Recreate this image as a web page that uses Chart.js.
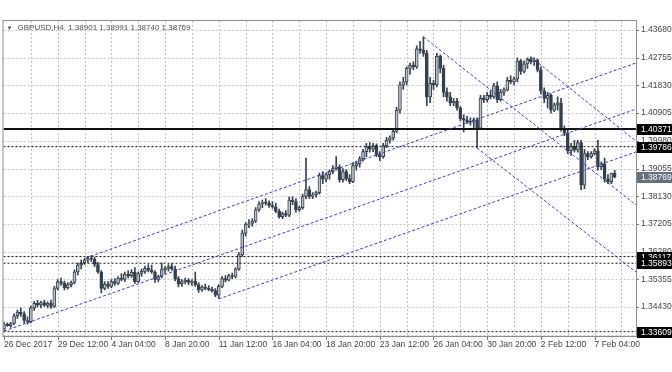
<!DOCTYPE html>
<html>
<head>
<meta charset="utf-8">
<script src="https://cdn.jsdelivr.net/npm/chart.js@4.4.1/dist/chart.umd.min.js"></script>
<style>
  html, body { margin: 0; padding: 0; background: #fff; }
  #wrap { width: 672px; height: 372px; }
</style>
</head>
<body>
<div id="wrap"><canvas id="chart" width="672" height="372"></canvas></div>
<script>
// GBPUSD H4 candles, one entry per bar (bar index = x)
const opens = [
  1.3370, 1.3386, 1.3381, 1.3388, 1.3414, 1.3426, 1.3420, 1.3398, 1.3394, 1.3440,
  1.3455, 1.3450, 1.3458, 1.3448, 1.3456, 1.3445, 1.3505, 1.3528, 1.3522, 1.3508,
  1.3518, 1.3525, 1.3560, 1.3583, 1.3590, 1.3600, 1.3605, 1.3603, 1.3585, 1.3560,
  1.3505, 1.3520, 1.3512, 1.3528, 1.3522, 1.3540, 1.3535, 1.3552, 1.3548, 1.3560,
  1.3528, 1.3555, 1.3562, 1.3572, 1.3566, 1.3560, 1.3535, 1.3545, 1.3568, 1.3572,
  1.3578, 1.3570, 1.3538, 1.3520, 1.3528, 1.3532, 1.3525, 1.3530, 1.3518, 1.3500,
  1.3510, 1.3505, 1.3502, 1.3498, 1.3483, 1.3512, 1.3538, 1.3533, 1.3548, 1.3545,
  1.3570, 1.3618, 1.3690, 1.3718, 1.3722, 1.3730, 1.3768, 1.3788, 1.3792, 1.3790,
  1.3782, 1.3778, 1.3763, 1.3745, 1.3755, 1.3750, 1.3800, 1.3795, 1.3768, 1.3775,
  1.3812, 1.3835, 1.3812, 1.3818, 1.3825, 1.3882, 1.3870, 1.3885, 1.3895, 1.3905,
  1.3910, 1.3868, 1.3895, 1.3872, 1.3862, 1.3915, 1.3922, 1.3938, 1.3962, 1.3978,
  1.3970, 1.3982, 1.3952, 1.3945, 1.3982, 1.4000, 1.4008, 1.4030, 1.4100, 1.4185,
  1.4195, 1.4240, 1.4250, 1.4245, 1.4305, 1.4300, 1.4290, 1.4145, 1.4190, 1.4185,
  1.4280, 1.4240, 1.4160, 1.4145, 1.4125, 1.4130, 1.4108, 1.4072, 1.4068, 1.4062,
  1.4060, 1.4068, 1.4040, 1.4140, 1.4135, 1.4150, 1.4145, 1.4182, 1.4135, 1.4160,
  1.4168, 1.4200, 1.4195, 1.4205, 1.4265, 1.4230, 1.4255, 1.4270, 1.4262, 1.4268,
  1.4235, 1.4165, 1.4140, 1.4150, 1.4100, 1.4118, 1.4125, 1.4040, 1.4025, 1.3965,
  1.3980, 1.3968, 1.3992, 1.3850, 1.3955, 1.3945, 1.3955, 1.3965, 1.3912, 1.3920,
  1.3870, 1.3862, 1.38901
];
const highs = [
  1.3393, 1.3390, 1.3392, 1.3420, 1.3433, 1.3440, 1.3428, 1.3410, 1.3446, 1.3462,
  1.3465, 1.3463, 1.3466, 1.3460, 1.3466, 1.3512, 1.3535, 1.3540, 1.3530, 1.3525,
  1.3530, 1.3567, 1.3590, 1.3600, 1.3606, 1.3612, 1.3615, 1.3610, 1.3592, 1.3565,
  1.3528, 1.3528, 1.3535, 1.3538, 1.3545, 1.3555, 1.3560, 1.3565, 1.3568, 1.3575,
  1.3560, 1.3570, 1.3580, 1.3585, 1.3583, 1.3565, 1.3550, 1.3590, 1.3578, 1.3585,
  1.3588, 1.3580, 1.3545, 1.3535, 1.3540, 1.3538, 1.3535, 1.3560, 1.3525, 1.3515,
  1.3520, 1.3515, 1.3510, 1.3505, 1.3518, 1.3545, 1.3548, 1.3552, 1.3556, 1.3575,
  1.3625, 1.3700, 1.3725, 1.3735, 1.3738, 1.3775, 1.3795, 1.3800, 1.3805, 1.3798,
  1.3795, 1.3790, 1.3770, 1.3760, 1.3765, 1.3810, 1.3812, 1.3805, 1.3780, 1.3820,
  1.3940, 1.3845, 1.3825, 1.3830, 1.3890, 1.3895, 1.3890, 1.3900, 1.3915, 1.3945,
  1.3918, 1.3905, 1.3902, 1.3885, 1.3925, 1.3930, 1.3945, 1.3970, 1.3990, 1.3992,
  1.3990, 1.3988, 1.3962, 1.3990, 1.4010, 1.4015, 1.4040, 1.4110, 1.4195, 1.4210,
  1.4245, 1.4258, 1.4262, 1.4315, 1.4330, 1.4345, 1.4300, 1.4210, 1.4200, 1.4290,
  1.4285, 1.4250, 1.4175, 1.4160, 1.4140, 1.4140, 1.4112, 1.4085, 1.4080, 1.4075,
  1.4075, 1.4075, 1.4150, 1.4150, 1.4160, 1.4165, 1.4190, 1.4195, 1.4170, 1.4175,
  1.4210, 1.4215, 1.4212, 1.4275, 1.4270, 1.4265, 1.4275, 1.4278, 1.4275, 1.4272,
  1.4245, 1.4175, 1.4160, 1.4155, 1.4125, 1.4145, 1.4140, 1.4048, 1.4035, 1.3990,
  1.4000, 1.4000, 1.4000, 1.3970, 1.3962, 1.3962, 1.3972, 1.4000, 1.3928, 1.3940,
  1.3885, 1.3890, 1.38991
];
const lows = [
  1.3362, 1.3378, 1.3375, 1.3384, 1.3405, 1.3412, 1.3390, 1.3386, 1.3390, 1.3432,
  1.3443, 1.3440, 1.3445, 1.3440, 1.3438, 1.3442, 1.3500, 1.3515, 1.3500, 1.3503,
  1.3510, 1.3520, 1.3550, 1.3570, 1.3585, 1.3592, 1.3595, 1.3578, 1.3555, 1.3490,
  1.3500, 1.3505, 1.3508, 1.3515, 1.3518, 1.3530, 1.3528, 1.3540, 1.3542, 1.3522,
  1.3525, 1.3545, 1.3555, 1.3560, 1.3555, 1.3525, 1.3528, 1.3540, 1.3555, 1.3563,
  1.3565, 1.3530, 1.3510, 1.3512, 1.3520, 1.3518, 1.3515, 1.3512, 1.3492, 1.3495,
  1.3500, 1.3498, 1.3493, 1.3478, 1.3472, 1.3508, 1.3527, 1.3530, 1.3538, 1.3540,
  1.3565, 1.3612, 1.3680, 1.3708, 1.3712, 1.3725, 1.3762, 1.3775, 1.3783, 1.3776,
  1.3772, 1.3758, 1.3740, 1.3738, 1.3745, 1.3745, 1.3785, 1.3760, 1.3762, 1.3770,
  1.3805, 1.3805, 1.3805, 1.3810, 1.3820, 1.3855, 1.3862, 1.3870, 1.3888, 1.3900,
  1.3860, 1.3860, 1.3865, 1.3855, 1.3858, 1.3900, 1.3910, 1.3930, 1.3945, 1.3960,
  1.3962, 1.3945, 1.3932, 1.3940, 1.3975, 1.3990, 1.4000, 1.4025, 1.4090, 1.4170,
  1.4185, 1.4220, 1.4235, 1.4240, 1.4290, 1.4280, 1.4115, 1.4125, 1.4170, 1.4178,
  1.4225, 1.4145, 1.4130, 1.4115, 1.4115, 1.4100, 1.4065, 1.4028, 1.4055, 1.4050,
  1.4035, 1.3974, 1.4035, 1.4125, 1.4128, 1.4138, 1.4140, 1.4125, 1.4130, 1.4150,
  1.4165, 1.4188, 1.4185, 1.4195, 1.4220, 1.4225, 1.4240, 1.4255, 1.4250, 1.4228,
  1.4155, 1.4125, 1.4108, 1.4090, 1.4095, 1.4100, 1.4030, 1.4015, 1.3955, 1.3950,
  1.3960, 1.3960, 1.3835, 1.3838, 1.3935, 1.3940, 1.3950, 1.3900, 1.3902, 1.3860,
  1.3855, 1.3855, 1.38740
];
const closes = [
  1.3386, 1.3381, 1.3388, 1.3414, 1.3426, 1.3420, 1.3398, 1.3394, 1.3440, 1.3455,
  1.3450, 1.3458, 1.3448, 1.3456, 1.3445, 1.3505, 1.3528, 1.3522, 1.3508, 1.3518,
  1.3525, 1.3560, 1.3583, 1.3590, 1.3600, 1.3605, 1.3603, 1.3585, 1.3560, 1.3505,
  1.3520, 1.3512, 1.3528, 1.3522, 1.3540, 1.3535, 1.3552, 1.3548, 1.3560, 1.3528,
  1.3555, 1.3562, 1.3572, 1.3566, 1.3560, 1.3535, 1.3545, 1.3568, 1.3572, 1.3578,
  1.3570, 1.3538, 1.3520, 1.3528, 1.3532, 1.3525, 1.3530, 1.3518, 1.3500, 1.3510,
  1.3505, 1.3502, 1.3498, 1.3483, 1.3512, 1.3538, 1.3533, 1.3548, 1.3545, 1.3570,
  1.3618, 1.3690, 1.3718, 1.3722, 1.3730, 1.3768, 1.3788, 1.3792, 1.3790, 1.3782,
  1.3778, 1.3763, 1.3745, 1.3755, 1.3750, 1.3800, 1.3795, 1.3768, 1.3775, 1.3812,
  1.3835, 1.3812, 1.3818, 1.3825, 1.3882, 1.3870, 1.3885, 1.3895, 1.3905, 1.3910,
  1.3868, 1.3895, 1.3872, 1.3862, 1.3915, 1.3922, 1.3938, 1.3962, 1.3978, 1.3970,
  1.3982, 1.3952, 1.3945, 1.3982, 1.4000, 1.4008, 1.4030, 1.4100, 1.4185, 1.4195,
  1.4240, 1.4250, 1.4245, 1.4305, 1.4300, 1.4290, 1.4145, 1.4190, 1.4185, 1.4280,
  1.4240, 1.4160, 1.4145, 1.4125, 1.4130, 1.4108, 1.4072, 1.4068, 1.4062, 1.4060,
  1.4068, 1.4040, 1.4140, 1.4135, 1.4150, 1.4145, 1.4182, 1.4135, 1.4160, 1.4168,
  1.4200, 1.4195, 1.4205, 1.4265, 1.4230, 1.4255, 1.4270, 1.4262, 1.4268, 1.4235,
  1.4165, 1.4140, 1.4150, 1.4100, 1.4118, 1.4125, 1.4040, 1.4025, 1.3965, 1.3980,
  1.3968, 1.3992, 1.3850, 1.3955, 1.3945, 1.3955, 1.3965, 1.3912, 1.3920, 1.3870,
  1.3862, 1.3890, 1.38769
];

// time axis labels and the bars they sit on
const timeLabels = ['26 Dec 2017', '29 Dec 12:00', '4 Jan 04:00', '8 Jan 20:00', '11 Jan 12:00', '16 Jan 04:00',
  '18 Jan 20:00', '23 Jan 12:00', '26 Jan 04:00', '30 Jan 20:00', '2 Feb 12:00', '7 Feb 04:00'];
const timeLabelBars = [0, 16, 32, 48, 64, 80, 96, 112, 128, 144, 160, 176];
// vertical grid runs every half label step
const timeGridBars = [8, 16, 24, 32, 40, 48, 56, 64, 72, 80, 88, 96, 104, 112, 120, 128, 136, 144, 152, 160, 168, 176, 184];

// price axis
const priceTicks = [1.43680, 1.42755, 1.41830, 1.40905, 1.39980, 1.39055, 1.38130, 1.37205, 1.36280, 1.35355, 1.34430, 1.33505];

// horizontal levels
const levelPrices = [1.40371, 1.39786, 1.36117, 1.35893, 1.33609];
const levelSolid = [true, false, false, false, false];
const lastPrice = 1.38769;

// channel lines as [bar, price] anchor pairs
const risingLines = [
  [[24.4, 1.3607], [188.35, 1.4258]],
  [[0, 1.3363], [188.35, 1.4104]],
  [[64, 1.3470], [188.35, 1.3961]]
];
const fallingLines = [
  [[125, 1.4345], [188.35, 1.3784]],
  [[157, 1.4278], [188.35, 1.3997]],
  [[141, 1.3974], [188.35, 1.3560]]
];

const X_MIN = -0.15, X_MAX = 188.35;
const Y_MIN = 1.33463, Y_MAX = 1.43981;

const FONT = { family: 'Liberation Sans, Arial, sans-serif', size: 8.5 };
const WICK = '#36414e';
const BULL = '#bcc3cb';
const BEAR = '#34404d';
const CHANNEL = '#4040b4';
const GRID = '#c4c4c4';

const datasets = [];

// trend/channel lines (drawn on top)
risingLines.concat(fallingLines).forEach(seg => {
  datasets.push({
    type: 'line',
    data: seg.map(p => ({ x: p[0], y: p[1] })),
    borderColor: CHANNEL,
    borderWidth: 1,
    borderDash: [3, 2],
    pointRadius: 0,
    fill: false,
    order: 0
  });
});

// horizontal levels
levelPrices.forEach((p, i) => {
  datasets.push({
    type: 'line',
    data: [{ x: X_MIN, y: p }, { x: X_MAX, y: p }],
    borderColor: '#111',
    borderWidth: levelSolid[i] ? 2 : 1,
    borderDash: levelSolid[i] ? [] : [2, 2],
    pointRadius: 0,
    fill: false,
    order: 0
  });
});

// candle bodies
datasets.push({
  type: 'bar',
  data: opens.map((o, i) => ({ x: i, y: [o, closes[i]] })),
  backgroundColor: opens.map((o, i) => closes[i] >= o ? BULL : BEAR),
  borderColor: WICK,
  borderWidth: 1,
  borderSkipped: false,
  barThickness: 3,
  minBarLength: 1,
  grouped: false,
  order: 1
});

// wicks
datasets.push({
  type: 'bar',
  data: opens.map((o, i) => ({ x: i, y: [lows[i], highs[i]] })),
  backgroundColor: WICK,
  borderWidth: 0,
  barThickness: 1,
  grouped: false,
  order: 2
});

// dotted grid + small tick marks, placed through the scales
const gridPlugin = {
  id: 'mtGrid',
  beforeDatasetsDraw(chart) {
    const { ctx, chartArea: a, scales } = chart;
    ctx.save();
    ctx.lineWidth = 1;
    ctx.strokeStyle = GRID;
    ctx.setLineDash([2, 2]);
    ctx.beginPath();
    timeGridBars.forEach(v => {
      const px = Math.round(scales.x.getPixelForValue(v)) + 0.5;
      ctx.moveTo(px, a.top);
      ctx.lineTo(px, a.bottom);
    });
    priceTicks.forEach(v => {
      const py = Math.round(scales.y.getPixelForValue(v)) + 0.5;
      ctx.moveTo(a.left, py);
      ctx.lineTo(a.right, py);
    });
    ctx.stroke();
    ctx.setLineDash([]);
    ctx.strokeStyle = '#777';
    ctx.beginPath();
    timeLabelBars.forEach(v => {
      const px = Math.round(scales.x.getPixelForValue(v)) + 0.5;
      ctx.moveTo(px, a.bottom);
      ctx.lineTo(px, a.bottom + 4);
    });
    priceTicks.forEach(v => {
      const py = Math.round(scales.y.getPixelForValue(v)) + 0.5;
      ctx.moveTo(a.right, py);
      ctx.lineTo(a.right + 3, py);
    });
    ctx.stroke();
    ctx.restore();
  }
};

const framePlugin = {
  id: 'frame',
  afterDatasetsDraw(chart) {
    const { ctx, chartArea: a } = chart;
    ctx.save();
    ctx.strokeStyle = '#8c8c8c';
    ctx.lineWidth = 1;
    ctx.strokeRect(a.left - 0.5, a.top - 0.5, a.right - a.left + 1, a.bottom - a.top + 1);
    ctx.restore();
  }
};

const labelsPlugin = {
  id: 'priceLabels',
  afterDraw(chart) {
    const { ctx, chartArea: a } = chart;
    const y = chart.scales.y;
    ctx.save();
    ctx.font = `${FONT.size}px ${FONT.family}`;
    ctx.textBaseline = 'middle';
    ctx.textAlign = 'left';
    const box = (price, bg) => {
      const py = Math.round(y.getPixelForValue(price));
      ctx.fillStyle = bg;
      ctx.fillRect(a.right + 1, py - 5, 672 - a.right - 1, 11);
      ctx.fillStyle = '#fff';
      ctx.fillText(price.toFixed(5), a.right + 5, py + 0.5);
    };
    levelPrices.forEach(p => box(p, '#000'));
    box(lastPrice, '#66707c');

    // symbol header
    ctx.fillStyle = '#505050';
    ctx.font = `6px ${FONT.family}`;
    ctx.fillText('\u25BC', a.left + 3, a.top + 7);
    ctx.font = `8px ${FONT.family}`;
    ctx.fillText('GBPUSD,H4  ' + [opens[182], highs[182], lows[182], closes[182]].map(v => v.toFixed(5)).join(' '),
      a.left + 14, a.top + 7);
    ctx.restore();
  }
};

new Chart(document.getElementById('chart'), {
  type: 'bar',
  data: { datasets },
  options: {
    responsive: false,
    devicePixelRatio: 1,
    animation: false,
    layout: { padding: { left: 3, top: 21, right: 0, bottom: 0 } },
    plugins: { legend: { display: false }, tooltip: { enabled: false } },
    scales: {
      x: {
        type: 'linear',
        min: X_MIN,
        max: X_MAX,
        offset: false,
        afterBuildTicks: s => { s.ticks = timeLabelBars.map(v => ({ value: v })); },
        afterFit: s => { s.height = 36; },
        ticks: {
          callback: v => timeLabels[timeLabelBars.indexOf(v)],
          align: 'start',
          autoSkip: false,
          maxRotation: 0,
          padding: 4,
          color: '#444',
          font: FONT
        },
        grid: { display: false, drawTicks: false },
        border: { display: false }
      },
      y: {
        type: 'linear',
        position: 'right',
        min: Y_MIN,
        max: Y_MAX,
        afterBuildTicks: s => { s.ticks = priceTicks.map(v => ({ value: v })); },
        afterFit: s => { s.width = 36; },
        ticks: {
          callback: v => v.toFixed(5),
          autoSkip: false,
          padding: 5,
          color: '#444',
          font: FONT
        },
        grid: { display: false, drawTicks: false },
        border: { display: false }
      }
    }
  },
  plugins: [gridPlugin, framePlugin, labelsPlugin]
});
</script>
</body>
</html>
